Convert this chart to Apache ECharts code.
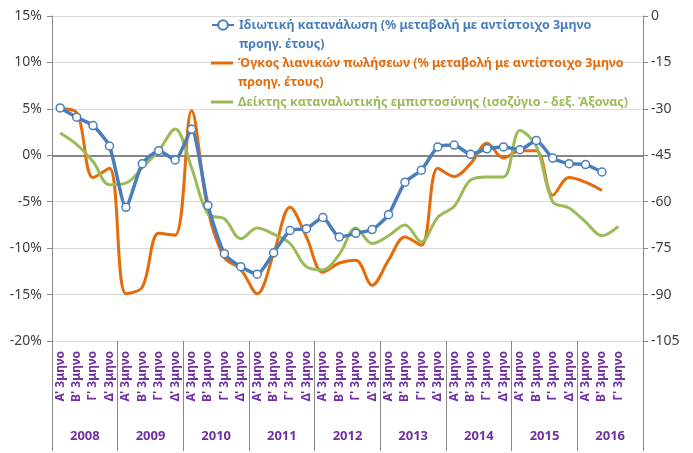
<!DOCTYPE html>
<html><head><meta charset="utf-8">
<script src="https://cdn.jsdelivr.net/npm/echarts@6/dist/echarts.min.js"></script>
<style>html,body{margin:0;padding:0;background:#fff}#c{width:693px;height:453px}</style>
</head><body><div id="c"></div>
<script>
const years = ['2008','2009','2010','2011','2012','2013','2014','2015','2016'];
const quarterNames = ["Α' 3μηνο","Β' 3μηνο","Γ' 3μηνο","Δ' 3μηνο"];
const categories = [];
years.forEach((y, yi) => quarterNames.forEach((q, qi) => { categories.push(yi === 8 && qi === 3 ? '' : q); }));

const consumption = [5.1,4.1,3.2,1.0,-5.6,-0.9,0.5,-0.5,2.8,-5.4,-10.6,-12.0,-12.8,-10.5,-8.1,-7.9,-6.7,-8.8,-8.4,-8.0,-6.4,-2.9,-1.6,0.9,1.1,0.1,0.7,0.9,0.6,1.6,-0.3,-0.9,-1.0,-1.8];
const retail = [5.0,4.6,-2.4,-1.4,-14.9,-14.2,-8.4,-8.6,4.8,-5.9,-11.0,-12.3,-14.9,-10.6,-5.6,-8.8,-12.6,-11.6,-11.3,-14.0,-11.3,-8.8,-9.7,-1.4,-2.3,-0.9,1.3,-0.3,0.5,0.5,-4.3,-2.4,-2.9,-3.8];
const confidence = [-37.8,-41.5,-47,-54.5,-54,-49,-43.5,-36.5,-49,-64,-65.5,-72,-68.5,-70.5,-73.5,-81,-82,-77,-68.5,-73.5,-71,-67.5,-73,-65,-61.5,-53,-52,-52,-37,-42,-60,-62,-66.5,-71,-68];

const leftAxis = {min: -20, max: 15, step: 5};
const rightAxis = {min: -105, max: 0, step: 15};

const names = [
  'Ιδιωτική κατανάλωση (% μεταβολή με αντίστοιχο 3μηνο προηγ. έτους)',
  'Όγκος λιανικών πωλήσεων (% μεταβολή με αντίστοιχο 3μηνο προηγ. έτους)',
  'Δείκτης καταναλωτικής εμπιστοσύνης (ισοζύγιο - δεξ. Άξονας)'
];
const legendTexts = [
  '\nΙδιωτική κατανάλωση (% μεταβολή με αντίστοιχο 3μηνο\nπροηγ. έτους)',
  '\nΌγκος λιανικών πωλήσεων (% μεταβολή με αντίστοιχο 3μηνο\nπροηγ. έτους)',
  'Δείκτης καταναλωτικής εμπιστοσύνης (ισοζύγιο - δεξ. Άξονας)'
];
const colors = ['#4a7ebb', '#e46c0a', '#9bbb59'];
const FONT = 'Noto Sans';

function mkLegend(i, iconY, lines, withSymbol) {
  const h = lines * 19;
  const lg = {
    left: 211, top: iconY - h / 2, padding: 0, orient: 'vertical',
    itemWidth: 22, itemHeight: withSymbol ? 12 : 3, itemGap: 0,
    data: [{name: names[i]}],
    formatter: () => legendTexts[i],
    textStyle: {fontFamily: FONT, fontSize: 12.5, fontWeight: 'bold', color: colors[i], lineHeight: 19}
  };
  if (!withSymbol) lg.icon = 'rect';
  return lg;
}

const chart = echarts.init(document.getElementById('c'));
chart.setOption({
  animation: false,
  textStyle: {fontFamily: FONT},
  grid: {left: 52, right: 50, top: 16, bottom: 112},
  legend: [mkLegend(0, 25, 3, true), mkLegend(1, 63, 3, false), mkLegend(2, 102, 1, false)],
  xAxis: [{
    type: 'category', data: categories, boundaryGap: true,
    axisLine: {show: false, onZero: false},
    axisTick: {show: true, interval: (i) => i % 4 === 0, length: 110, lineStyle: {color: '#868686', width: 1}},
    axisLabel: {interval: 0, rotate: 90, color: '#7030a0', fontWeight: 'bold', fontSize: 12, margin: 10, fontFamily: FONT}
  }, {
    type: 'category', data: years, boundaryGap: true, position: 'bottom', offset: 81,
    axisLine: {show: false, onZero: false}, axisTick: {show: false},
    axisLabel: {interval: 0, color: '#7030a0', fontWeight: 'bold', fontSize: 13, margin: 8, fontFamily: FONT}
  }],
  yAxis: [{
    type: 'value', min: leftAxis.min, max: leftAxis.max, interval: leftAxis.step, position: 'left',
    axisLine: {show: true, lineStyle: {color: '#868686'}},
    axisTick: {show: true, length: 5, lineStyle: {color: '#868686'}},
    axisLabel: {formatter: '{value}%', color: '#404040', fontSize: 14, margin: 10, fontFamily: FONT},
    splitLine: {show: true, lineStyle: {color: '#d9d9d9', width: 1}}
  }, {
    type: 'value', min: rightAxis.min, max: rightAxis.max, interval: rightAxis.step, position: 'right',
    axisLine: {show: true, lineStyle: {color: '#868686'}},
    axisTick: {show: true, length: 5, lineStyle: {color: '#868686'}},
    axisLabel: {color: '#404040', fontSize: 14, margin: 8, fontFamily: FONT},
    splitLine: {show: false}
  }],
  series: [{
    name: names[1], type: 'line', data: retail, yAxisIndex: 0, smooth: 0.35, symbol: 'none', z: 2,
    itemStyle: {color: colors[1]}, lineStyle: {color: colors[1], width: 3},
    markLine: {silent: true, symbol: 'none', label: {show: false}, animation: false, z: 1,
      lineStyle: {color: '#868686', width: 2, type: 'solid'}, data: [{yAxis: 0}]}
  }, {
    name: names[2], type: 'line', data: confidence, yAxisIndex: 1, smooth: 0.35, symbol: 'none', z: 2,
    itemStyle: {color: colors[2]}, lineStyle: {color: colors[2], width: 3}
  }, {
    name: names[0], type: 'line', data: consumption, yAxisIndex: 0, smooth: 0.2, z: 3,
    symbol: 'circle', symbolSize: 8, showSymbol: true,
    itemStyle: {color: '#ffffff', borderColor: colors[0], borderWidth: 1.5},
    lineStyle: {color: colors[0], width: 3.5}
  }]
});
</script></body></html>
